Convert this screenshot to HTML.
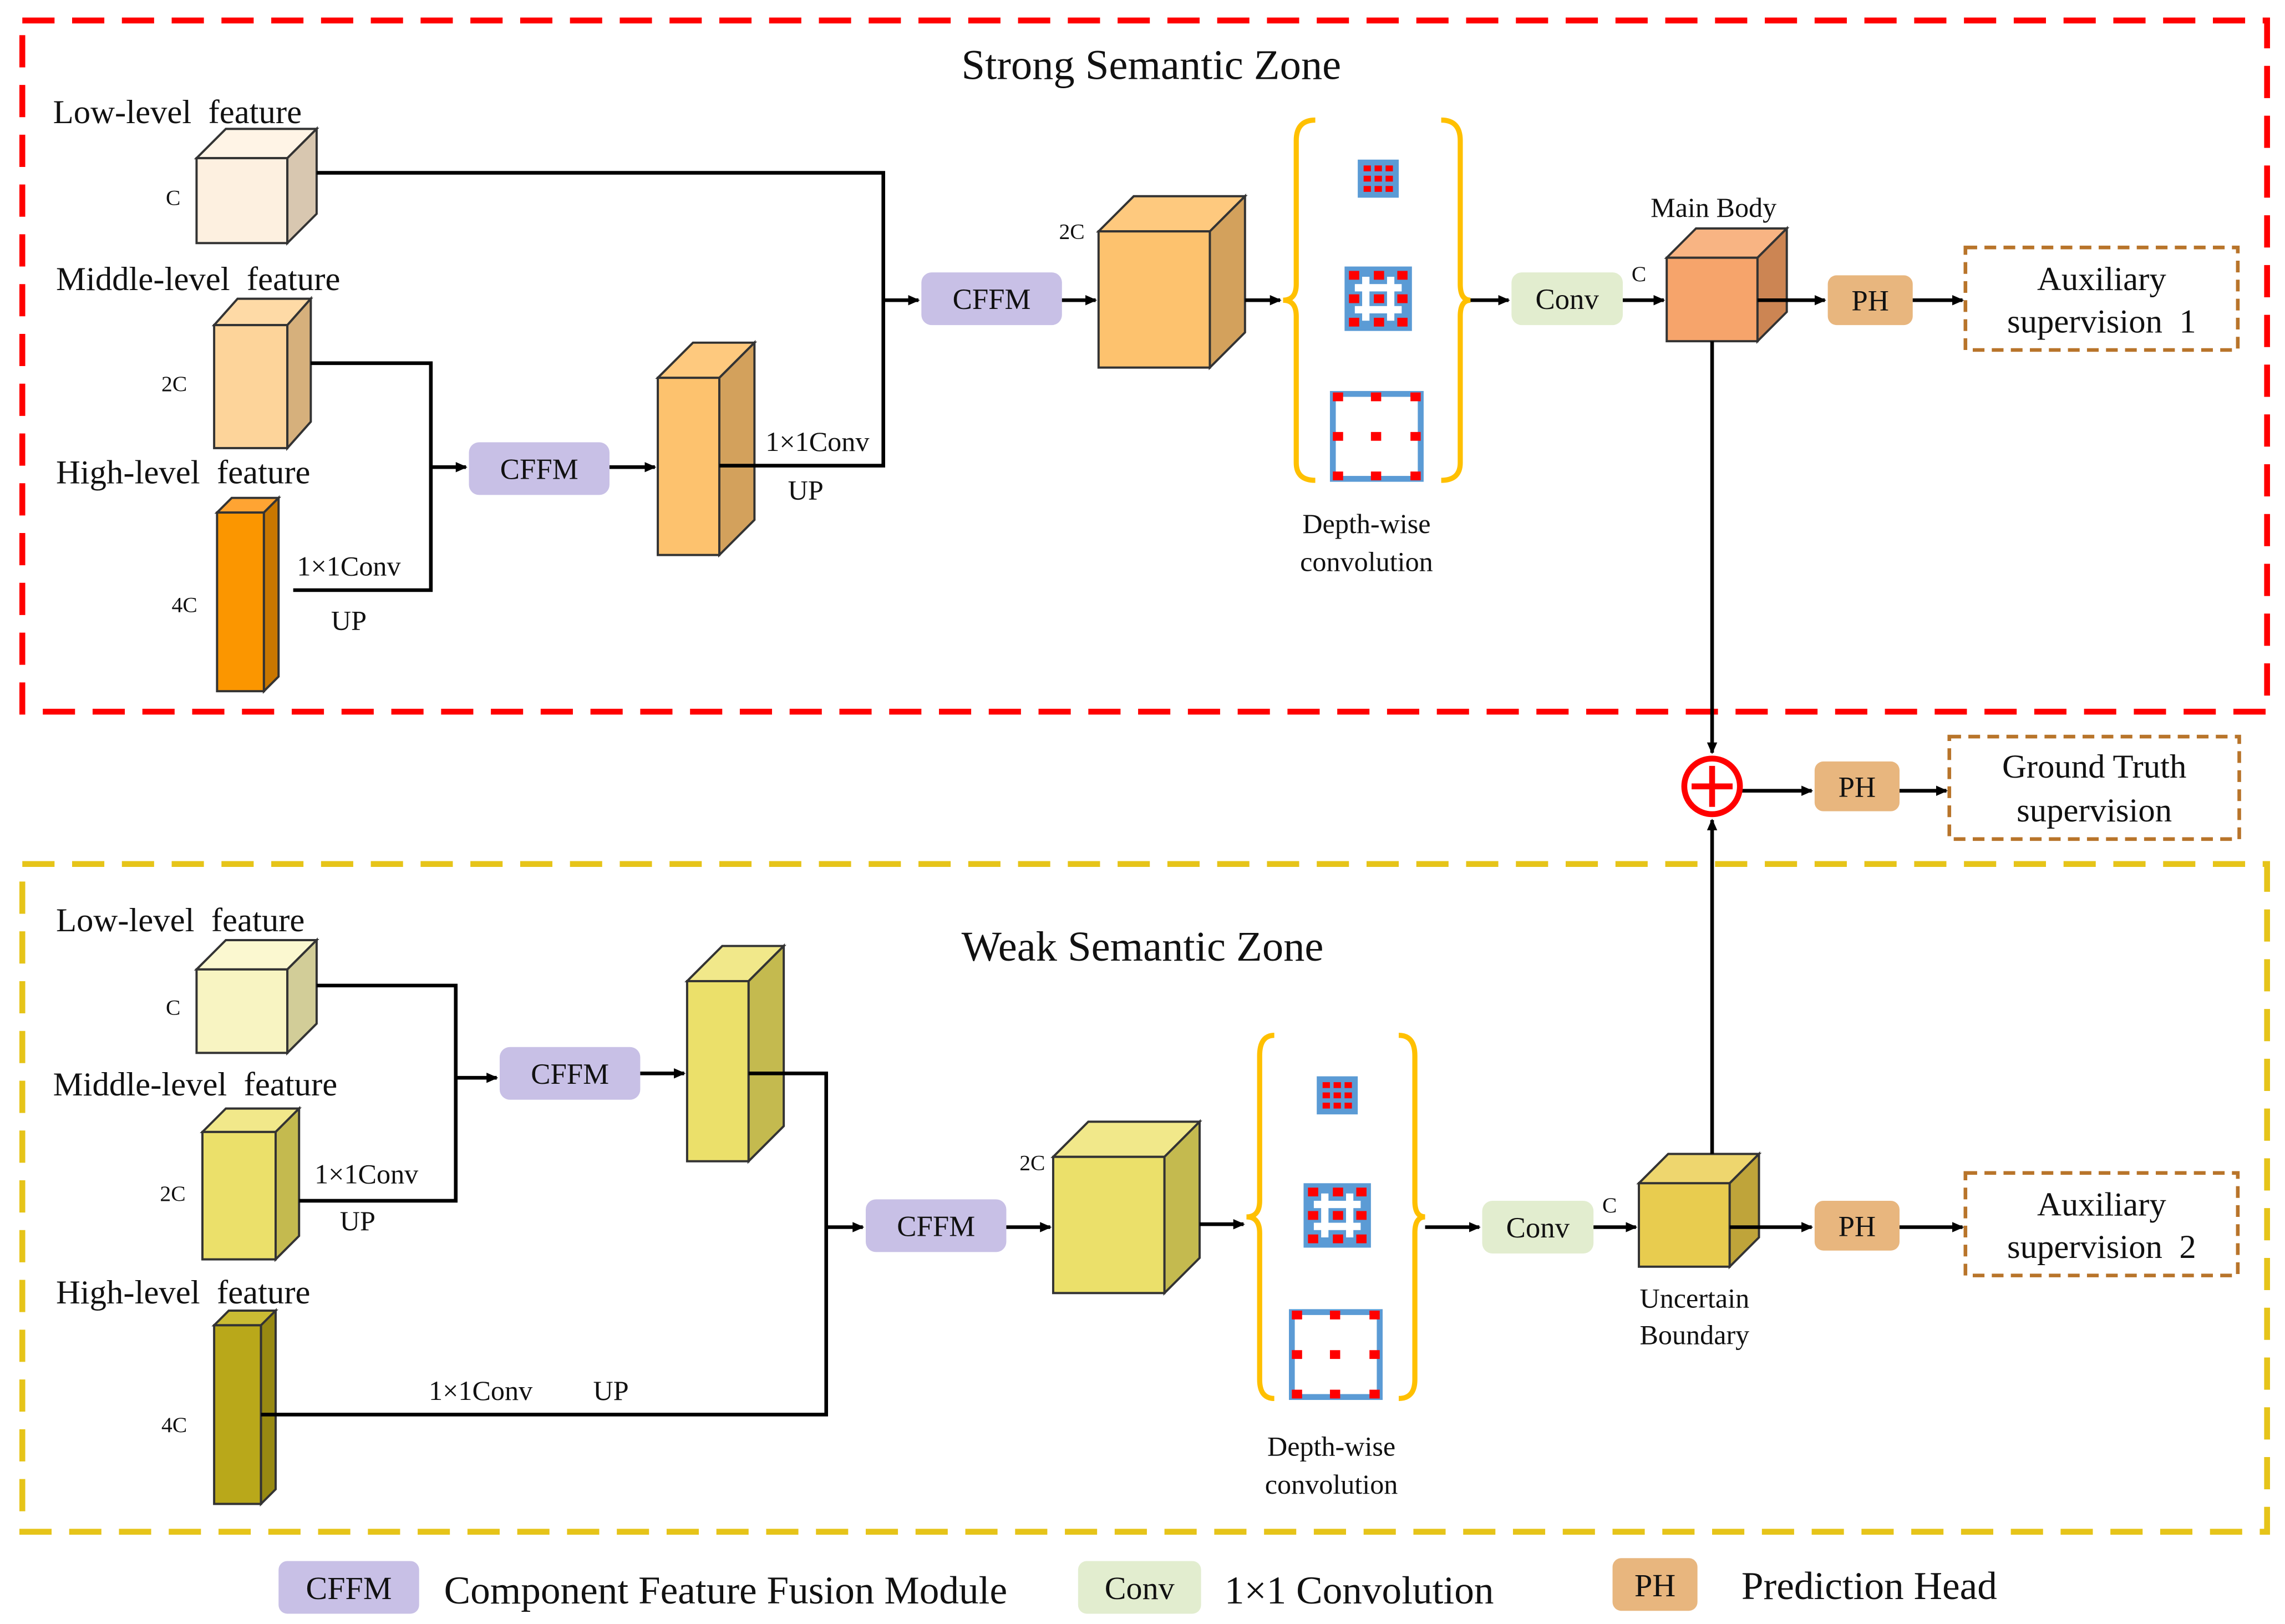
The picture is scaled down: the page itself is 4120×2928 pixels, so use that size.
<!DOCTYPE html>
<html><head><meta charset="utf-8"><style>
html,body{margin:0;padding:0;background:#fff}
svg{display:block}
text{font-family:"Liberation Serif",serif;fill:#111}
</style></head><body>
<svg width="4120" height="2928" viewBox="0 0 1560 1109" xmlns="http://www.w3.org/2000/svg">
<defs>
<marker id="a" markerWidth="8" markerHeight="8" refX="7" refY="4" orient="auto" markerUnits="userSpaceOnUse"><path d="M0,0.5 L8,4 L0,7.5 Z" fill="#000"/></marker>
<g id="ic1"><rect x="0" y="0" width="28" height="26" fill="#5b9bd5"/>
<g fill="#f00"><rect x="4" y="4" width="5" height="4"/><rect x="11.5" y="4" width="5" height="4"/><rect x="19" y="4" width="5" height="4"/><rect x="4" y="11" width="5" height="4"/><rect x="11.5" y="11" width="5" height="4"/><rect x="19" y="11" width="5" height="4"/><rect x="4" y="18" width="5" height="4"/><rect x="11.5" y="18" width="5" height="4"/><rect x="19" y="18" width="5" height="4"/></g></g>
<g id="ic2"><rect x="0" y="0" width="46" height="44" fill="#5b9bd5"/>
<g fill="#fff"><rect x="7" y="12" width="32" height="5"/><rect x="7" y="27" width="32" height="5"/><rect x="12" y="7" width="5" height="30"/><rect x="29" y="7" width="5" height="30"/></g>
<g fill="#f00"><rect x="3" y="3" width="7" height="6"/><rect x="20" y="3" width="7" height="6"/><rect x="36" y="3" width="7" height="6"/><rect x="3" y="19" width="7" height="6"/><rect x="20" y="19" width="7" height="6"/><rect x="36" y="19" width="7" height="6"/><rect x="3" y="35" width="7" height="6"/><rect x="20" y="35" width="7" height="6"/><rect x="36" y="35" width="7" height="6"/></g></g>
<g id="ic3"><rect x="2" y="2" width="60" height="58" fill="none" stroke="#5b9bd5" stroke-width="4"/>
<g fill="#f00"><rect x="2" y="1" width="7" height="6"/><rect x="28" y="1" width="7" height="6"/><rect x="55" y="1" width="7" height="6"/><rect x="2" y="28" width="7" height="6"/><rect x="28" y="28" width="7" height="6"/><rect x="55" y="28" width="7" height="6"/><rect x="2" y="55" width="7" height="6"/><rect x="28" y="55" width="7" height="6"/><rect x="55" y="55" width="7" height="6"/></g></g>
</defs>

<rect x="15" y="14" width="1533" height="472" fill="none" stroke="#f00" stroke-width="4" stroke-dasharray="22,12"/>
<rect x="15" y="590" width="1533" height="456" fill="none" stroke="#e6c419" stroke-width="4" stroke-dasharray="22,12"/>
<text x="786" y="54" font-size="29" text-anchor="middle">Strong Semantic Zone</text>
<text x="780" y="656" font-size="29" text-anchor="middle">Weak Semantic Zone</text>

<g font-size="23">
<text x="36" y="84">Low-level&#160;&#160;feature</text>
<text x="38" y="198">Middle-level&#160;&#160;feature</text>
<text x="38" y="330">High-level&#160;&#160;feature</text>
<text x="38" y="636">Low-level&#160;&#160;feature</text>
<text x="36" y="748">Middle-level&#160;&#160;feature</text>
<text x="38" y="890">High-level&#160;&#160;feature</text>
</g>
<g font-size="15">
<text x="113" y="140">C</text><text x="110" y="267">2C</text><text x="117" y="418">4C</text>
<text x="723" y="163">2C</text><text x="1114" y="192">C</text>
<text x="113" y="693">C</text><text x="109" y="820">2C</text><text x="110" y="978">4C</text>
<text x="696" y="799">2C</text><text x="1094" y="828">C</text>
</g>

<g stroke="#333" stroke-width="1.5">
<path d="M134,108 L154,88 L216,88 L196,108Z" fill="#fff4e6"/><rect x="134" y="108" width="62" height="58" fill="#fdf0e0"/><path d="M196,108 L216,88 L216,146 L196,166Z" fill="#d8c7b0"/>
<path d="M146,222 L162,204 L212,204 L196,222Z" fill="#fedaa6"/><rect x="146" y="222" width="50" height="84" fill="#fdd49a"/><path d="M196,222 L212,204 L212,288 L196,306Z" fill="#d6b07c"/>
<path d="M148,350 L158,340 L190,340 L180,350Z" fill="#ffa433"/><rect x="148" y="350" width="32" height="122" fill="#fb9600"/><path d="M180,350 L190,340 L190,462 L180,472Z" fill="#c97700"/>
<path d="M449,258 L473,234 L515,234 L491,258Z" fill="#fec97e"/><rect x="449" y="258" width="42" height="121" fill="#fdc26e"/><path d="M491,258 L515,234 L515,355 L491,379Z" fill="#d3a15c"/>
<path d="M750,158 L774,134 L850,134 L826,158Z" fill="#fec97e"/><rect x="750" y="158" width="76" height="93" fill="#fdc26e"/><path d="M826,158 L850,134 L850,227 L826,251Z" fill="#d3a15c"/>
<path d="M1138,176 L1158,156 L1220,156 L1200,176Z" fill="#f8b483"/><rect x="1138" y="176" width="62" height="57" fill="#f6a46b"/><path d="M1200,176 L1220,156 L1220,213 L1200,233Z" fill="#cc8553"/>
<path d="M134,662 L154,642 L216,642 L196,662Z" fill="#fbf8d0"/><rect x="134" y="662" width="62" height="57" fill="#f8f4c2"/><path d="M196,662 L216,642 L216,699 L196,719Z" fill="#d2cd98"/>
<path d="M138,773 L154,757 L204,757 L188,773Z" fill="#f1e88a"/><rect x="138" y="773" width="50" height="87" fill="#ebe06a"/><path d="M188,773 L204,757 L204,844 L188,860Z" fill="#c4ba4f"/>
<path d="M146,905 L156,895 L188,895 L178,905Z" fill="#cabb33"/><rect x="146" y="905" width="32" height="122" fill="#b9a81a"/><path d="M178,905 L188,895 L188,1017 L178,1027Z" fill="#978912"/>
<path d="M469,670 L493,646 L535,646 L511,670Z" fill="#f1e88a"/><rect x="469" y="670" width="42" height="123" fill="#ebe06a"/><path d="M511,670 L535,646 L535,769 L511,793Z" fill="#c4ba4f"/>
<path d="M719,790 L743,766 L819,766 L795,790Z" fill="#f1e88a"/><rect x="719" y="790" width="76" height="93" fill="#ebe06a"/><path d="M795,790 L819,766 L819,859 L795,883Z" fill="#c4ba4f"/>
<path d="M1119,808 L1139,788 L1201,788 L1181,808Z" fill="#eed66e"/><rect x="1119" y="808" width="62" height="57" fill="#e8cc4f"/><path d="M1181,808 L1201,788 L1201,845 L1181,865Z" fill="#bfa43a"/>
</g>

<g font-size="20" text-anchor="middle">
<rect x="629" y="186" width="96" height="36" rx="7" fill="#c8c0e6"/><text x="677" y="211">CFFM</text>
<rect x="320" y="302" width="96" height="36" rx="7" fill="#c8c0e6"/><text x="368" y="327">CFFM</text>
<rect x="341" y="715" width="96" height="36" rx="7" fill="#c8c0e6"/><text x="389" y="740">CFFM</text>
<rect x="591" y="819" width="96" height="36" rx="7" fill="#c8c0e6"/><text x="639" y="844">CFFM</text>
<rect x="1032" y="186" width="76" height="36" rx="7" fill="#e2edcf"/><text x="1070" y="211">Conv</text>
<rect x="1012" y="820" width="76" height="36" rx="7" fill="#e2edcf"/><text x="1050" y="845">Conv</text>
<rect x="1248" y="188" width="58" height="34" rx="6" fill="#e8b67e"/><text x="1277" y="212">PH</text>
<rect x="1239" y="520" width="58" height="34" rx="6" fill="#e8b67e"/><text x="1268" y="544">PH</text>
<rect x="1239" y="820" width="58" height="34" rx="6" fill="#e8b67e"/><text x="1268" y="844">PH</text>
</g>
<g fill="none" stroke="#b8742a" stroke-width="2.5" stroke-dasharray="8,5">
<rect x="1342" y="169" width="186" height="70"/><rect x="1331" y="503" width="198" height="70"/><rect x="1342" y="801" width="186" height="70"/>
</g>
<g font-size="23" text-anchor="middle">
<text x="1435" y="198">Auxiliary</text><text x="1435" y="227">supervision&#160;&#160;1</text>
<text x="1430" y="531">Ground Truth</text><text x="1430" y="561">supervision</text>
<text x="1435" y="830">Auxiliary</text><text x="1435" y="859">supervision&#160;&#160;2</text>
</g>
<g font-size="19" text-anchor="middle">
<text x="1170" y="148">Main Body</text>
<text x="1157" y="893">Uncertain</text><text x="1157" y="918">Boundary</text>
<text x="933" y="364">Depth-wise</text><text x="933" y="390">convolution</text>
<text x="909" y="994">Depth-wise</text><text x="909" y="1020">convolution</text>
<text x="238" y="393">1×1Conv</text><text x="238" y="430">UP</text>
<text x="558" y="308">1×1Conv</text><text x="550" y="341">UP</text>
<text x="250" y="808">1×1Conv</text><text x="244" y="840">UP</text>
<text x="328" y="956">1×1Conv</text><text x="417" y="956">UP</text>
</g>

<g fill="none" stroke="#ffc000" stroke-width="3.5">
<path d="M898,82 Q885,82 885,96 L885,194 Q885,205 876,205 Q885,205 885,216 L885,316 Q885,328 898,328"/>
<path d="M984,82 Q997,82 997,96 L997,194 Q997,205 1004,205 Q997,205 997,216 L997,316 Q997,328 984,328"/>
<path d="M870,707 Q860,707 860,721 L860,820 Q860,831 851,831 Q860,831 860,842 L860,942 Q860,955 870,955"/>
<path d="M955,707 Q966,707 966,721 L966,820 Q966,831 973,831 Q966,831 966,842 L966,942 Q966,955 955,955"/>
</g>
<use href="#ic1" x="927" y="109"/><use href="#ic2" x="918" y="182"/><use href="#ic3" x="908" y="267"/>
<use href="#ic1" x="899" y="735"/><use href="#ic2" x="890" y="808"/><use href="#ic3" x="880" y="894"/>

<g fill="none" stroke="#000" stroke-width="2.5">
<polyline points="216,118 603,118 603,318 491,318"/>
<line x1="603" y1="205" x2="627" y2="205" marker-end="url(#a)"/>
<polyline points="212,248 294,248 294,403 200,403"/>
<line x1="294" y1="319" x2="318" y2="319" marker-end="url(#a)"/>
<line x1="416" y1="319" x2="447" y2="319" marker-end="url(#a)"/>
<line x1="725" y1="205" x2="748" y2="205" marker-end="url(#a)"/>
<line x1="850" y1="205" x2="874" y2="205" marker-end="url(#a)"/>
<line x1="1004" y1="205" x2="1030" y2="205" marker-end="url(#a)"/>
<line x1="1108" y1="205" x2="1136" y2="205" marker-end="url(#a)"/>
<line x1="1200" y1="205" x2="1246" y2="205" marker-end="url(#a)"/>
<line x1="1306" y1="205" x2="1340" y2="205" marker-end="url(#a)"/>
<line x1="1169" y1="233" x2="1169" y2="514" marker-end="url(#a)"/>
<line x1="1189" y1="540" x2="1237" y2="540" marker-end="url(#a)"/>
<line x1="1297" y1="540" x2="1329" y2="540" marker-end="url(#a)"/>
<line x1="1169" y1="788" x2="1169" y2="560" marker-end="url(#a)"/>
<polyline points="216,673 311,673 311,820 204,820"/>
<line x1="311" y1="736" x2="339" y2="736" marker-end="url(#a)"/>
<line x1="437" y1="733" x2="467" y2="733" marker-end="url(#a)"/>
<polyline points="511,733 564,733 564,966 178,966"/>
<line x1="564" y1="838" x2="589" y2="838" marker-end="url(#a)"/>
<line x1="687" y1="838" x2="717" y2="838" marker-end="url(#a)"/>
<line x1="819" y1="836" x2="849" y2="836" marker-end="url(#a)"/>
<line x1="973" y1="838" x2="1010" y2="838" marker-end="url(#a)"/>
<line x1="1088" y1="838" x2="1117" y2="838" marker-end="url(#a)"/>
<line x1="1181" y1="838" x2="1237" y2="838" marker-end="url(#a)"/>
<line x1="1297" y1="838" x2="1340" y2="838" marker-end="url(#a)"/>
</g>
<circle cx="1169" cy="537" r="19" fill="none" stroke="#f00" stroke-width="4"/>
<line x1="1155" y1="537" x2="1183" y2="537" stroke="#f00" stroke-width="4"/>
<line x1="1169" y1="523" x2="1169" y2="551" stroke="#f00" stroke-width="4"/>

<rect x="190" y="1066" width="96" height="36" rx="6" fill="#c8c0e6"/>
<text x="238" y="1092" font-size="22" text-anchor="middle">CFFM</text>
<text x="303" y="1095" font-size="27">Component Feature Fusion Module</text>
<rect x="736" y="1066" width="84" height="36" rx="6" fill="#e2edcf"/>
<text x="778" y="1092" font-size="22" text-anchor="middle">Conv</text>
<text x="836" y="1095" font-size="27">1×1 Convolution</text>
<rect x="1101" y="1064" width="58" height="36" rx="6" fill="#e8b67e"/>
<text x="1130" y="1090" font-size="22" text-anchor="middle">PH</text>
<text x="1189" y="1092" font-size="27">Prediction Head</text>
</svg>
</body></html>
